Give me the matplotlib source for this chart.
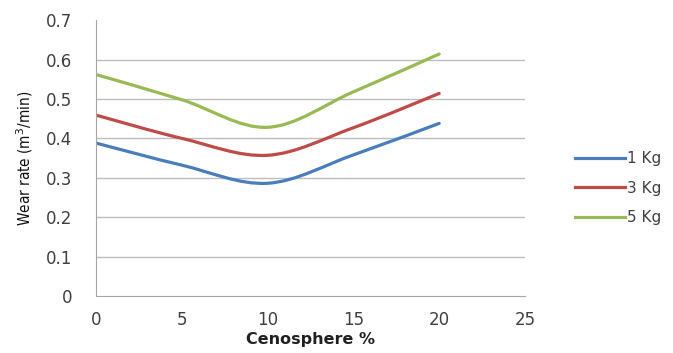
import numpy as np
import matplotlib.pyplot as plt
from matplotlib.path import Path
from matplotlib.patches import PathPatch
from matplotlib.lines import Line2D

# Data
cenosphere = [0, 5, 10, 15, 20]
wear_1kg = [0.388, 0.332, 0.286, 0.358, 0.438]
wear_3kg = [0.459, 0.400, 0.357, 0.427, 0.514]
wear_5kg = [0.562, 0.498, 0.428, 0.518, 0.614]
labels = ["1 Kg", "3 Kg", "5 Kg"]
colors = ["#4A7EBB", "#BE4B48", "#98B954"]


def smooth_path(x, y, t=1 / 6):
    """Excel-like smoothed line: cubic Bezier through the points."""
    pts = np.column_stack([x, y]).astype(float)
    verts = [pts[0]]
    codes = [Path.MOVETO]
    n = len(pts)
    for i in range(n - 1):
        p0 = pts[i - 1] if i > 0 else pts[i]
        p1 = pts[i]
        p2 = pts[i + 1]
        p3 = pts[i + 2] if i + 2 < n else pts[i + 1]
        c1 = p1 + (p2 - p0) * t
        c2 = p2 - (p3 - p1) * t
        verts += [c1, c2, p2]
        codes += [Path.CURVE4] * 3
    return Path(verts, codes)


fig = plt.figure(figsize=(6.73, 3.53), dpi=100)
ax = fig.add_axes([0.1426, 0.1615, 0.6375, 0.7815])

for y, c in zip([wear_1kg, wear_3kg, wear_5kg], colors):
    ax.add_patch(PathPatch(smooth_path(cenosphere, y), facecolor="none",
                           edgecolor=c, lw=2.3, capstyle="round"))

ax.set_xlim(0, 25)
ax.set_ylim(0, 0.7)
ax.set_xticks(range(0, 26, 5))
ax.set_yticks(np.arange(0, 0.71, 0.1))
ax.set_yticklabels(["0", "0.1", "0.2", "0.3", "0.4", "0.5", "0.6", "0.7"])

for yv in np.arange(0.1, 0.65, 0.1):
    ax.axhline(yv, color="#BDBDBD", lw=1, zorder=0)

for s in ["top", "right"]:
    ax.spines[s].set_visible(False)
for s in ["left", "bottom"]:
    ax.spines[s].set_color("#A6A6A6")
ax.tick_params(length=0, labelsize=12, colors="#404040")
ax.tick_params(axis="y", pad=17)
ax.tick_params(axis="x", pad=11)
for lab in ax.get_xticklabels() + ax.get_yticklabels():
    lab.set_fontfamily("DejaVu Sans")

ax.set_xlabel("Cenosphere %", fontsize=11.5, fontweight="bold", family="DejaVu Sans",
              color="#202020", labelpad=2)
ax.set_ylabel("Wear rate (m$^3$/min)", fontsize=11, family="DejaVu Sans",
              fontstretch="condensed", color="#101010", labelpad=8)

handles = [Line2D([], [], color=c, lw=2.3) for c in colors]
fig.legend(handles, labels, loc="center left", bbox_to_anchor=(0.854, 0.467),
           frameon=False, handlelength=3.3, handletextpad=0.15, labelspacing=0.95,
           borderpad=0, borderaxespad=0, labelcolor="#404040",
           prop={"family": "DejaVu Sans", "size": 11})

fig.savefig("out.png", dpi=100)
